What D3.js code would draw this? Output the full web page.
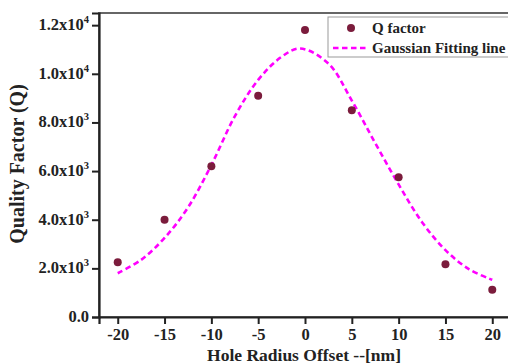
<!DOCTYPE html>
<html>
<head>
<meta charset="utf-8">
<script src="https://cdn.jsdelivr.net/npm/d3@7"></script>
<style>
  body { margin: 0; background: #fff; }
  svg text { font-family: "Liberation Serif", "Times New Roman", serif; font-weight: bold; fill: #222; }
</style>
</head>
<body>
<div id="chart-container"></div>
<script>
// measured Q factor
const offsets = [-20, -15, -10, -5, 0, 5, 10, 15, 20];
const qValues = [2250, 4000, 6200, 9100, 11800, 8500, 5750, 2170, 1120];

// gaussian fitting line
const fitX = [-20, -17.5, -15, -12.5, -10, -7.5, -5, -2.5, -0.5, 2.5, 5, 7.5, 10, 12.5, 15, 17.5, 20];
const fitY = [1800, 2350, 3250, 4500, 6250, 8250, 9750, 10700, 11040, 10420, 8900, 7150, 5450, 3900, 2750, 1970, 1530];

const xTicks = [-20, -15, -10, -5, 0, 5, 10, 15, 20];
const yTicks = [0, 2000, 4000, 6000, 8000, 10000, 12000];

const margin = { top: 13, right: 0, bottom: 47, left: 99 };
const width = 412;
const height = 364 - margin.top - margin.bottom;

const svg = d3.select("#chart-container").append("svg")
    .attr("width", 508)
    .attr("height", 364)
    .append("g")
    .attr("transform", `translate(${margin.left},${margin.top})`);

const x = d3.scaleLinear().domain([-22, 22]).range([0, width]);
const y = d3.scaleLinear().domain([0, 12500]).range([height, 0]);

// frame (top + right)
svg.append("rect")
    .attr("x", 0).attr("y", 0)
    .attr("width", width).attr("height", height)
    .attr("fill", "none")
    .attr("stroke", "#666")
    .attr("stroke-width", 2);

// axes
const xAxis = svg.append("g")
    .attr("transform", `translate(0,${height})`)
    .call(d3.axisBottom(x).tickValues(xTicks).tickSize(7).tickPadding(4).tickFormat(d3.format("d")));

const yAxis = svg.append("g")
    .call(d3.axisLeft(y).tickValues(yTicks).tickSize(7).tickPadding(3).tickFormat(""));

[xAxis, yAxis].forEach(a => {
    a.select(".domain").attr("stroke", "#222").attr("stroke-width", 2.2);
    a.selectAll(".tick line").attr("stroke", "#222").attr("stroke-width", 2);
});

xAxis.selectAll(".tick text")
    .style("font-size", "16.5px")
    .style("font-family", "Liberation Serif, serif")
    .style("font-weight", "bold")
    .attr("fill", "#222")
    .text(d => d < 0 ? "-" + Math.abs(d) : d);

// y tick labels with superscript exponents
yTicks.forEach(v => {
    const t = svg.append("text")
        .attr("x", -10)
        .attr("y", y(v) + 5)
        .attr("text-anchor", "end")
        .style("font-size", "16.5px");
    if (v === 0) {
        t.text("0.0");
    } else {
        const exp = Math.floor(Math.log10(v));
        const mant = (v / Math.pow(10, exp)).toFixed(1);
        t.append("tspan").text(mant + "x10");
        t.append("tspan").attr("dy", -7).style("font-size", "10.5px").text(exp);
    }
});

// fitting line
const line = d3.line()
    .x((d, i) => x(fitX[i]))
    .y(d => y(d))
    .curve(d3.curveCatmullRom);

svg.append("path")
    .datum(fitY)
    .attr("d", line)
    .attr("fill", "none")
    .attr("stroke", "#f0f")
    .attr("stroke-width", 2.6)
    .attr("stroke-dasharray", "5.5,3.5");

// points
svg.selectAll(".pt")
    .data(qValues)
    .enter().append("circle")
    .attr("class", "pt")
    .attr("cx", (d, i) => x(offsets[i]))
    .attr("cy", d => y(d))
    .attr("r", 4)
    .attr("fill", "#7b1c3c");

// legend
const lg = svg.append("g").attr("transform", `translate(${328 - margin.left},${17 - margin.top})`);
lg.append("rect")
    .attr("width", 200).attr("height", 40)
    .attr("fill", "#fff")
    .attr("stroke", "#999")
    .attr("stroke-width", 1);
lg.append("circle").attr("cx", 23).attr("cy", 11).attr("r", 4).attr("fill", "#7b1c3c");
lg.append("text").attr("x", 44).attr("y", 16).style("font-size", "15px").text("Q factor");
lg.append("line")
    .attr("x1", 5).attr("x2", 41).attr("y1", 31).attr("y2", 31)
    .attr("stroke", "#f0f").attr("stroke-width", 2.6).attr("stroke-dasharray", "5.5,3.5");
lg.append("text").attr("x", 44).attr("y", 36).style("font-size", "15px").text("Gaussian Fitting line");

// axis titles
svg.append("text")
    .attr("x", 304 - margin.left)
    .attr("y", 361 - margin.top)
    .attr("text-anchor", "middle")
    .style("font-size", "17.5px")
    .text("Hole Radius Offset --[nm]");

svg.append("text")
    .attr("transform", `translate(${24 - margin.left},${164 - margin.top}) rotate(-90)`)
    .attr("text-anchor", "middle")
    .style("font-size", "20px")
    .text("Quality Factor (Q)");
</script>
</body>
</html>
